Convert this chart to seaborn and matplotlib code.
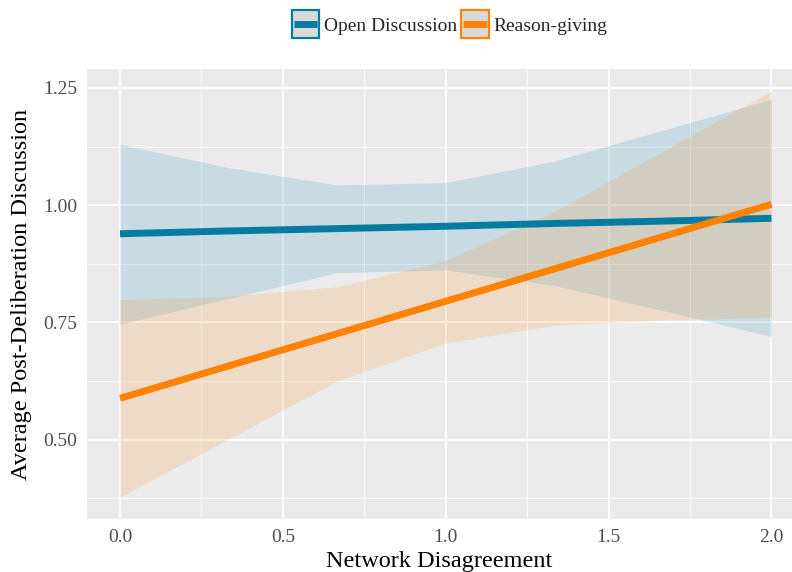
import numpy as np
import pandas as pd
import matplotlib
matplotlib.use("Agg")
import matplotlib.pyplot as plt
from matplotlib.patches import Rectangle
from matplotlib.lines import Line2D
import seaborn as sns

# values
x_grid = [0.0, 0.333, 0.667, 1.0, 1.333, 1.667, 2.0]

open_fit = [0.939, 0.945, 0.950, 0.955, 0.961, 0.966, 0.972]
open_low = [0.746, 0.801, 0.856, 0.862, 0.829, 0.775, 0.720]
open_high = [1.130, 1.080, 1.043, 1.048, 1.094, 1.160, 1.226]

reason_fit = [0.588, 0.657, 0.726, 0.795, 0.864, 0.933, 1.002]
reason_low = [0.377, 0.501, 0.625, 0.706, 0.744, 0.755, 0.761]
reason_high = [0.798, 0.806, 0.826, 0.882, 0.986, 1.115, 1.244]

groups = ["Open Discussion", "Reason-giving"]
line_colors = {"Open Discussion": "#047ca1", "Reason-giving": "#ff8200"}
fill_colors = {"Open Discussion": "#3c96bf", "Reason-giving": "#fa9b3c"}

df = pd.DataFrame({
    "x": x_grid * 2,
    "fit": open_fit + reason_fit,
    "low": open_low + reason_low,
    "high": open_high + reason_high,
    "group": [groups[0]] * len(x_grid) + [groups[1]] * len(x_grid),
})


class KeyHandler:
    # ggplot-like key: grey box with coloured border and a line through the middle
    def legend_artist(self, legend, orig_handle, fontsize, handlebox):
        x0, y0 = handlebox.xdescent, handlebox.ydescent
        w, h = handlebox.width, handlebox.height
        col = orig_handle.get_color()
        tr = handlebox.get_transform()
        rect = Rectangle((-x0, -y0), w, h, facecolor="#d9d9d9", edgecolor=col,
                         linewidth=1.6, transform=tr)
        ln = Line2D([-x0 + 1.5, -x0 + w - 1.5], [-y0 + h / 2] * 2, color=col,
                    linewidth=5, solid_capstyle="butt", transform=tr)
        handlebox.add_artist(rect)
        handlebox.add_artist(ln)
        return rect


sns.set_theme(style="darkgrid")
plt.rcParams["font.family"] = ["Liberation Serif", "DejaVu Serif"]

fig = plt.figure(figsize=(7.92, 5.72), dpi=100)
ax = fig.add_axes([0.110, 0.093, 0.89, 0.786])
ax.set_facecolor("#ebebeb")

for g in groups:
    sub = df[df["group"] == g]
    ax.fill_between(sub["x"], sub["low"], sub["high"], color=fill_colors[g],
                    alpha=0.2, linewidth=0, zorder=2)

sns.lineplot(data=df, x="x", y="fit", hue="group", palette=line_colors,
             linewidth=5, legend=False, ax=ax, zorder=3, solid_capstyle="butt")

ax.set_xlim(-0.101, 2.063)
ax.set_ylim(0.331, 1.29)
ax.set_xticks([0.0, 0.5, 1.0, 1.5, 2.0])
ax.set_xticklabels(["0.0", "0.5", "1.0", "1.5", "2.0"])
ax.set_yticks([0.50, 0.75, 1.00, 1.25])
ax.set_yticklabels(["0.50", "0.75", "1.00", "1.25"])
ax.set_xticks([0.25, 0.75, 1.25, 1.75], minor=True)
ax.set_yticks([0.375, 0.625, 0.875, 1.125], minor=True)
ax.grid(which="major", color="white", linewidth=1.3)
ax.grid(which="minor", color="white", linewidth=0.6)
ax.tick_params(which="major", length=4, width=1, color="#333333",
               labelsize=14, labelcolor="#4d4d4d", pad=3)
ax.tick_params(which="minor", length=0)
for s in ax.spines.values():
    s.set_visible(False)

ax.set_xlabel("Network Disagreement", fontsize=17.5, color="black", labelpad=4)
ax.set_ylabel("Average Post-Deliberation Discussion", fontsize=17.5,
              color="black", labelpad=8)

handles = [Line2D([], [], color=line_colors[g]) for g in groups]
ax.legend(handles, groups, loc="center", bbox_to_anchor=(0.514, 1.1), ncol=2,
          frameon=False, fontsize=14, handlelength=1.42, handleheight=1.8,
          handletextpad=0.25, columnspacing=0.2,
          handler_map={Line2D: KeyHandler()})

fig.savefig("out.png", dpi=100)
